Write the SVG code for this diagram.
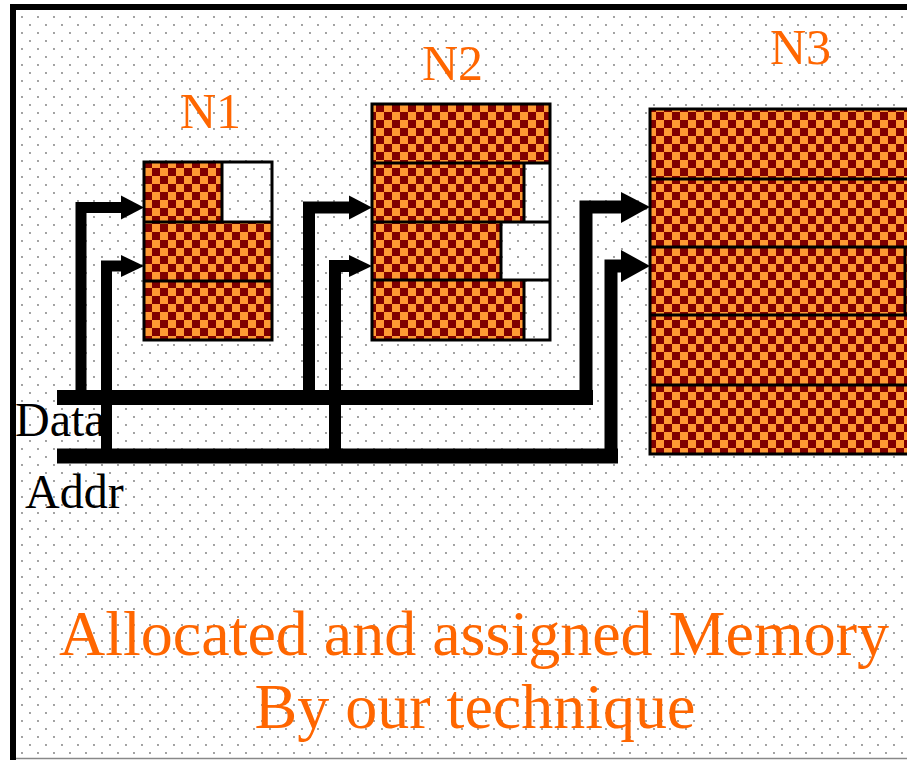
<svg xmlns="http://www.w3.org/2000/svg" width="907" height="760" viewBox="0 0 907 760">
<defs>
  <pattern id="dots" width="16" height="16" patternUnits="userSpaceOnUse">
    <rect width="16" height="16" fill="#ffffff"/>
    <circle cx="6" cy="1" r="0.9" fill="#777"/>
    <circle cx="14" cy="9" r="0.9" fill="#777"/>
  </pattern>
  <pattern id="checker" width="16" height="16" patternUnits="userSpaceOnUse">
    <rect width="16" height="16" fill="#FF9933"/>
    <rect width="8" height="8" fill="#800000"/>
    <rect x="8" y="8" width="8" height="8" fill="#800000"/>
  </pattern>
</defs>
<style>
  .fill{fill:url(#checker)}
  .box{fill:none;stroke:#000;stroke-width:3}
  .div{stroke:#000;stroke-width:3}
  .wire{fill:none;stroke:#000;stroke-linejoin:miter;stroke-linecap:butt}
  .head{fill:#000}
  .title{font-family:"Liberation Serif","Times New Roman",serif;fill:#FF6600}
  .bus{font-family:"Liberation Serif","Times New Roman",serif;fill:#000;font-size:48px}
</style>
<rect width="907" height="760" fill="#ffffff"/>
<rect x="16" y="10" width="891" height="748" fill="url(#dots)"/>
<rect x="10" y="4" width="897" height="6" fill="#000"/>
<rect x="10" y="4" width="6" height="756" fill="#000"/>
<line x1="16" y1="758.5" x2="907" y2="758.5" stroke="#888" stroke-width="1.5"/>

<g id="N1">
  <rect class="fill" x="144" y="162" width="78" height="60"/>
  <rect class="fill" x="144" y="222" width="128" height="118"/>
  <line class="div" x1="222" y1="162" x2="222" y2="222"/>
  <line class="div" x1="144" y1="222" x2="272" y2="222"/>
  <line class="div" x1="144" y1="281" x2="272" y2="281"/>
  <rect class="box" x="144" y="162" width="128" height="178"/>
  <text class="title" x="180" y="128" font-size="50">N1</text>
</g>

<g id="N2">
  <rect class="fill" x="372" y="104" width="178" height="59"/>
  <rect class="fill" x="372" y="163" width="152" height="59"/>
  <rect class="fill" x="372" y="222" width="129" height="58"/>
  <rect class="fill" x="372" y="280" width="152" height="60"/>
  <line class="div" x1="524" y1="163" x2="524" y2="222"/>
  <line class="div" x1="501" y1="222" x2="501" y2="280"/>
  <line class="div" x1="524" y1="280" x2="524" y2="340"/>
  <line class="div" x1="372" y1="163" x2="550" y2="163"/>
  <line class="div" x1="372" y1="222" x2="550" y2="222"/>
  <line class="div" x1="372" y1="280" x2="550" y2="280"/>
  <rect class="box" x="372" y="104" width="178" height="236"/>
  <text class="title" x="422" y="80" font-size="50">N2</text>
</g>

<g id="N3">
  <rect class="fill" x="650" y="109" width="260" height="345"/>
  <line class="div" x1="650" y1="179" x2="910" y2="179"/>
  <line class="div" x1="650" y1="247" x2="910" y2="247"/>
  <line class="div" x1="650" y1="315" x2="910" y2="315"/>
  <line class="div" x1="650" y1="385" x2="910" y2="385"/>
  <line class="div" x1="905" y1="247" x2="905" y2="315"/>
  <rect class="box" x="650" y="109" width="270" height="345"/>
  <text class="title" x="770" y="64" font-size="50">N3</text>
</g>

<g id="connectors">
  <!-- buses -->
  <line class="wire" x1="57" y1="397.5" x2="593" y2="397.5" stroke-width="15"/>
  <line class="wire" x1="57" y1="456" x2="618" y2="456" stroke-width="15"/>
  <!-- N1 -->
  <path class="wire" d="M81 397 V207.5 H122" stroke-width="11"/>
  <polygon class="head" points="121,195.5 144,207.5 121,219.5"/>
  <path class="wire" d="M106.5 456 V266 H122" stroke-width="11"/>
  <polygon class="head" points="121,255 144,266 121,277"/>
  <!-- N2 -->
  <path class="wire" d="M309 397 V207.5 H350" stroke-width="12"/>
  <polygon class="head" points="349,195.5 372,207.5 349,219.5"/>
  <path class="wire" d="M335 456 V266 H350" stroke-width="12"/>
  <polygon class="head" points="349,255 372,266 349,277"/>
  <!-- N3 -->
  <path class="wire" d="M586 397 V207 H622" stroke-width="13"/>
  <polygon class="head" points="621,192 650,207 621,223"/>
  <path class="wire" d="M611 456 V266 H622" stroke-width="13"/>
  <polygon class="head" points="621,250 650,266 621,282"/>
</g>

<g id="labels">
  <text class="bus" x="15" y="436">Data</text>
  <text class="bus" x="25" y="508">Addr</text>
  <text class="title" x="474" y="655" font-size="64" text-anchor="middle">Allocated and assigned Memory</text>
  <text class="title" x="475" y="728" font-size="64" text-anchor="middle">By our technique</text>
</g>
</svg>
